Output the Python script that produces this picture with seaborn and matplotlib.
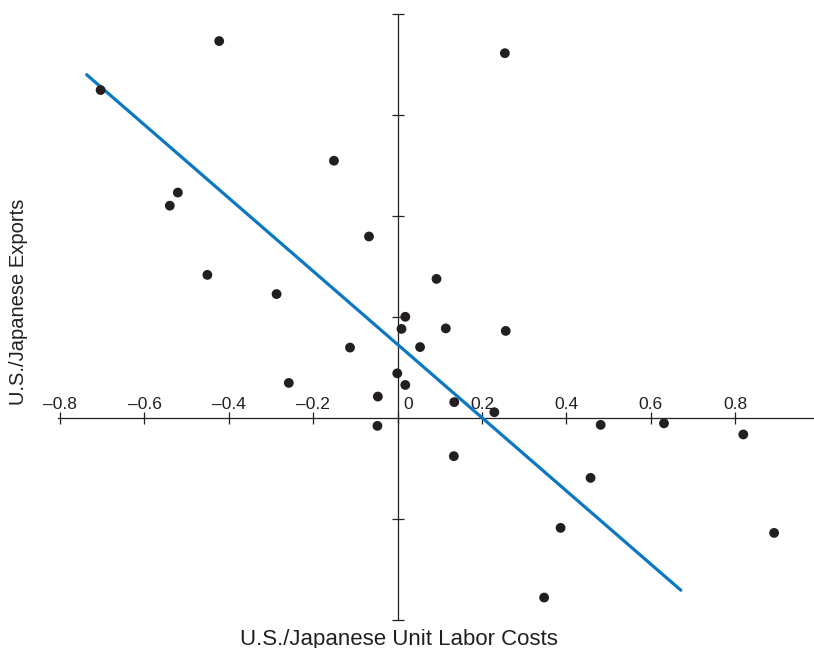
import matplotlib
matplotlib.use('Agg')
import matplotlib.pyplot as plt
import matplotlib.transforms as mtransforms
from matplotlib.ticker import FuncFormatter
import pandas as pd
import seaborn as sns

# values
labor_costs = [-0.704, -0.423, 0.254, -0.521, -0.540, -0.151, -0.451, -0.287,
               -0.068, 0.092, 0.018, 0.009, 0.114, 0.256, -0.113, 0.053,
               -0.258, -0.001, 0.018, -0.047, 0.134, 0.229, -0.048, 0.481,
               0.631, 0.819, 0.133, 0.457, 0.386, 0.892, 0.347]
exports = [0.650, 0.747, 0.723, 0.447, 0.421, 0.510, 0.284, 0.246,
           0.360, 0.276, 0.201, 0.177, 0.178, 0.173, 0.140, 0.141,
           0.070, 0.089, 0.066, 0.043, 0.032, 0.012, -0.015, -0.013,
           -0.010, -0.032, -0.075, -0.118, -0.217, -0.227, -0.355]

# fitted line
fit_x = [-0.737, 0.671]
fit_intercept = 0.146
fit_slope = -0.725

x_ticks = [-0.8, -0.6, -0.4, -0.2, 0, 0.2, 0.4, 0.6, 0.8]
y_ticks = [-0.4, -0.2, 0.2, 0.4, 0.6, 0.8]

sns.set_style('ticks')
plt.rcParams['font.family'] = ['Liberation Sans', 'DejaVu Sans']

ink = '#231f20'
blue = '#0a78c2'

df = pd.DataFrame({'labor': labor_costs, 'exports': exports})
fit = pd.DataFrame({'x': fit_x})
fit['y'] = fit_intercept + fit_slope * fit['x']

fig = plt.figure(figsize=(8.14, 6.48), dpi=100)
ax = fig.add_axes([0, 0, 1, 1])

sns.lineplot(data=fit, x='x', y='y', color=blue, lw=2.3, ax=ax, zorder=3)
sns.scatterplot(data=df, x='labor', y='exports', color=ink, s=50,
                edgecolor='none', ax=ax, zorder=4)

ax.set_xlim(-0.9424, 0.9865)
ax.set_ylim(-0.4549, 0.8283)

# axes crossing at the origin
for side in ['left', 'bottom', 'top']:
    ax.spines[side].set_position(('data', 0))
ax.spines['right'].set_visible(False)
ax.spines['top'].set_visible(False)
ax.spines['bottom'].set_bounds(-0.805, 0.9865)
ax.spines['left'].set_bounds(-0.4, 0.8)
for side in ['left', 'bottom']:
    ax.spines[side].set_color(ink)
    ax.spines[side].set_linewidth(0.9)

ax.set_xticks(x_ticks)
ax.set_yticks(y_ticks)
ax.xaxis.set_major_formatter(FuncFormatter(
    lambda v, _: '0' if abs(v) < 1e-9 else f'{v:.1f}'.replace('-', '\u2013')))
ax.tick_params(axis='x', direction='inout', length=8, width=0.9, color=ink,
               bottom=True, top=False, labelbottom=False, labeltop=True,
               labelsize=12.5, labelcolor=ink, pad=0.8)
ax.tick_params(axis='y', direction='inout', length=8, width=0.9, color=ink,
               left=True, right=False, labelleft=False)

# the "0" label sits to the right of the vertical axis
for value, tick in zip(x_ticks, ax.xaxis.get_major_ticks()):
    if value == 0:
        tick.label2.set_horizontalalignment('left')
        tick.label2.set_transform(tick.label2.get_transform() +
                                  mtransforms.ScaledTranslation(4 / 72, 0, fig.dpi_scale_trans))

ax.set_xlabel('U.S./Japanese Unit Labor Costs', fontsize=16, color=ink)
ax.set_ylabel('U.S./Japanese Exports', fontsize=14.5, color=ink)
ax.xaxis.set_label_coords(0.49, 0.03)
ax.yaxis.set_label_coords(0.035, 0.534)

fig.savefig('out.png', dpi=100)
